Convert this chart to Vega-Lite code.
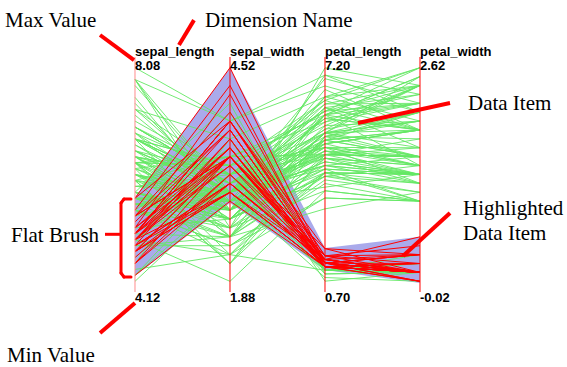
{
"$schema": "https://vega.github.io/schema/vega-lite/v6.json",
"width": 567, "height": 367, "padding": 0, "autosize": "none",
"background": "white",
"config": {"view": {"stroke": null}},
"datasets": {
"dims": [
{"key":"sepal_length","idx":0,"min":4.12,"max":8.08,"minText":"4.12","maxText":"8.08"},
{"key":"sepal_width","idx":1,"min":1.88,"max":4.52,"minText":"1.88","maxText":"4.52"},
{"key":"petal_length","idx":2,"min":0.7,"max":7.2,"minText":"0.70","maxText":"7.20"},
{"key":"petal_width","idx":3,"min":-0.02,"max":2.62,"minText":"-0.02","maxText":"2.62"}
],
"brush": [
{"key":"sepal_length","lo":4.39,"hi":5.72},
{"key":"sepal_width","lo":2.88,"hi":4.4},
{"key":"petal_length","lo":1.31,"hi":1.92},
{"key":"petal_width","lo":0.08,"hi":0.6}
],
"iris": [
{"id":1,"sepal_length":5.1,"sepal_width":3.5,"petal_length":1.4,"petal_width":0.2},
{"id":2,"sepal_length":4.9,"sepal_width":3.0,"petal_length":1.4,"petal_width":0.2},
{"id":3,"sepal_length":4.7,"sepal_width":3.2,"petal_length":1.3,"petal_width":0.2},
{"id":4,"sepal_length":4.6,"sepal_width":3.1,"petal_length":1.5,"petal_width":0.2},
{"id":5,"sepal_length":5.0,"sepal_width":3.6,"petal_length":1.4,"petal_width":0.2},
{"id":6,"sepal_length":5.4,"sepal_width":3.9,"petal_length":1.7,"petal_width":0.4},
{"id":7,"sepal_length":4.6,"sepal_width":3.4,"petal_length":1.4,"petal_width":0.3},
{"id":8,"sepal_length":5.0,"sepal_width":3.4,"petal_length":1.5,"petal_width":0.2},
{"id":9,"sepal_length":4.4,"sepal_width":2.9,"petal_length":1.4,"petal_width":0.2},
{"id":10,"sepal_length":4.9,"sepal_width":3.1,"petal_length":1.5,"petal_width":0.1},
{"id":11,"sepal_length":5.4,"sepal_width":3.7,"petal_length":1.5,"petal_width":0.2},
{"id":12,"sepal_length":4.8,"sepal_width":3.4,"petal_length":1.6,"petal_width":0.2},
{"id":13,"sepal_length":4.8,"sepal_width":3.0,"petal_length":1.4,"petal_width":0.1},
{"id":14,"sepal_length":4.3,"sepal_width":3.0,"petal_length":1.1,"petal_width":0.1},
{"id":15,"sepal_length":5.8,"sepal_width":4.0,"petal_length":1.2,"petal_width":0.2},
{"id":16,"sepal_length":5.7,"sepal_width":4.4,"petal_length":1.5,"petal_width":0.4},
{"id":17,"sepal_length":5.4,"sepal_width":3.9,"petal_length":1.3,"petal_width":0.4},
{"id":18,"sepal_length":5.1,"sepal_width":3.5,"petal_length":1.4,"petal_width":0.3},
{"id":19,"sepal_length":5.7,"sepal_width":3.8,"petal_length":1.7,"petal_width":0.3},
{"id":20,"sepal_length":5.1,"sepal_width":3.8,"petal_length":1.5,"petal_width":0.3},
{"id":21,"sepal_length":5.4,"sepal_width":3.4,"petal_length":1.7,"petal_width":0.2},
{"id":22,"sepal_length":5.1,"sepal_width":3.7,"petal_length":1.5,"petal_width":0.4},
{"id":23,"sepal_length":4.6,"sepal_width":3.6,"petal_length":1.0,"petal_width":0.2},
{"id":24,"sepal_length":5.1,"sepal_width":3.3,"petal_length":1.7,"petal_width":0.5},
{"id":25,"sepal_length":4.8,"sepal_width":3.4,"petal_length":1.9,"petal_width":0.2},
{"id":26,"sepal_length":5.0,"sepal_width":3.0,"petal_length":1.6,"petal_width":0.2},
{"id":27,"sepal_length":5.0,"sepal_width":3.4,"petal_length":1.6,"petal_width":0.4},
{"id":28,"sepal_length":5.2,"sepal_width":3.5,"petal_length":1.5,"petal_width":0.2},
{"id":29,"sepal_length":5.2,"sepal_width":3.4,"petal_length":1.4,"petal_width":0.2},
{"id":30,"sepal_length":4.7,"sepal_width":3.2,"petal_length":1.6,"petal_width":0.2},
{"id":31,"sepal_length":4.8,"sepal_width":3.1,"petal_length":1.6,"petal_width":0.2},
{"id":32,"sepal_length":5.4,"sepal_width":3.4,"petal_length":1.5,"petal_width":0.4},
{"id":33,"sepal_length":5.2,"sepal_width":4.1,"petal_length":1.5,"petal_width":0.1},
{"id":34,"sepal_length":5.5,"sepal_width":4.2,"petal_length":1.4,"petal_width":0.2},
{"id":35,"sepal_length":4.9,"sepal_width":3.1,"petal_length":1.5,"petal_width":0.2},
{"id":36,"sepal_length":5.0,"sepal_width":3.2,"petal_length":1.2,"petal_width":0.2},
{"id":37,"sepal_length":5.5,"sepal_width":3.5,"petal_length":1.3,"petal_width":0.2},
{"id":38,"sepal_length":4.9,"sepal_width":3.6,"petal_length":1.4,"petal_width":0.1},
{"id":39,"sepal_length":4.4,"sepal_width":3.0,"petal_length":1.3,"petal_width":0.2},
{"id":40,"sepal_length":5.1,"sepal_width":3.4,"petal_length":1.5,"petal_width":0.2},
{"id":41,"sepal_length":5.0,"sepal_width":3.5,"petal_length":1.3,"petal_width":0.3},
{"id":42,"sepal_length":4.5,"sepal_width":2.3,"petal_length":1.3,"petal_width":0.3},
{"id":43,"sepal_length":4.4,"sepal_width":3.2,"petal_length":1.3,"petal_width":0.2},
{"id":44,"sepal_length":5.0,"sepal_width":3.5,"petal_length":1.6,"petal_width":0.6},
{"id":45,"sepal_length":5.1,"sepal_width":3.8,"petal_length":1.9,"petal_width":0.4},
{"id":46,"sepal_length":4.8,"sepal_width":3.0,"petal_length":1.4,"petal_width":0.3},
{"id":47,"sepal_length":5.1,"sepal_width":3.8,"petal_length":1.6,"petal_width":0.2},
{"id":48,"sepal_length":4.6,"sepal_width":3.2,"petal_length":1.4,"petal_width":0.2},
{"id":49,"sepal_length":5.3,"sepal_width":3.7,"petal_length":1.5,"petal_width":0.2},
{"id":50,"sepal_length":5.0,"sepal_width":3.3,"petal_length":1.4,"petal_width":0.2},
{"id":51,"sepal_length":7.0,"sepal_width":3.2,"petal_length":4.7,"petal_width":1.4},
{"id":52,"sepal_length":6.4,"sepal_width":3.2,"petal_length":4.5,"petal_width":1.5},
{"id":53,"sepal_length":6.9,"sepal_width":3.1,"petal_length":4.9,"petal_width":1.5},
{"id":54,"sepal_length":5.5,"sepal_width":2.3,"petal_length":4.0,"petal_width":1.3},
{"id":55,"sepal_length":6.5,"sepal_width":2.8,"petal_length":4.6,"petal_width":1.5},
{"id":56,"sepal_length":5.7,"sepal_width":2.8,"petal_length":4.5,"petal_width":1.3},
{"id":57,"sepal_length":6.3,"sepal_width":3.3,"petal_length":4.7,"petal_width":1.6},
{"id":58,"sepal_length":4.9,"sepal_width":2.4,"petal_length":3.3,"petal_width":1.0},
{"id":59,"sepal_length":6.6,"sepal_width":2.9,"petal_length":4.6,"petal_width":1.3},
{"id":60,"sepal_length":5.2,"sepal_width":2.7,"petal_length":3.9,"petal_width":1.4},
{"id":61,"sepal_length":5.0,"sepal_width":2.0,"petal_length":3.5,"petal_width":1.0},
{"id":62,"sepal_length":5.9,"sepal_width":3.0,"petal_length":4.2,"petal_width":1.5},
{"id":63,"sepal_length":6.0,"sepal_width":2.2,"petal_length":4.0,"petal_width":1.0},
{"id":64,"sepal_length":6.1,"sepal_width":2.9,"petal_length":4.7,"petal_width":1.4},
{"id":65,"sepal_length":5.6,"sepal_width":2.9,"petal_length":3.6,"petal_width":1.3},
{"id":66,"sepal_length":6.7,"sepal_width":3.1,"petal_length":4.4,"petal_width":1.4},
{"id":67,"sepal_length":5.6,"sepal_width":3.0,"petal_length":4.5,"petal_width":1.5},
{"id":68,"sepal_length":5.8,"sepal_width":2.7,"petal_length":4.1,"petal_width":1.0},
{"id":69,"sepal_length":6.2,"sepal_width":2.2,"petal_length":4.5,"petal_width":1.5},
{"id":70,"sepal_length":5.6,"sepal_width":2.5,"petal_length":3.9,"petal_width":1.1},
{"id":71,"sepal_length":5.9,"sepal_width":3.2,"petal_length":4.8,"petal_width":1.8},
{"id":72,"sepal_length":6.1,"sepal_width":2.8,"petal_length":4.0,"petal_width":1.3},
{"id":73,"sepal_length":6.3,"sepal_width":2.5,"petal_length":4.9,"petal_width":1.5},
{"id":74,"sepal_length":6.1,"sepal_width":2.8,"petal_length":4.7,"petal_width":1.2},
{"id":75,"sepal_length":6.4,"sepal_width":2.9,"petal_length":4.3,"petal_width":1.3},
{"id":76,"sepal_length":6.6,"sepal_width":3.0,"petal_length":4.4,"petal_width":1.4},
{"id":77,"sepal_length":6.8,"sepal_width":2.8,"petal_length":4.8,"petal_width":1.4},
{"id":78,"sepal_length":6.7,"sepal_width":3.0,"petal_length":5.0,"petal_width":1.7},
{"id":79,"sepal_length":6.0,"sepal_width":2.9,"petal_length":4.5,"petal_width":1.5},
{"id":80,"sepal_length":5.7,"sepal_width":2.6,"petal_length":3.5,"petal_width":1.0},
{"id":81,"sepal_length":5.5,"sepal_width":2.4,"petal_length":3.8,"petal_width":1.1},
{"id":82,"sepal_length":5.5,"sepal_width":2.4,"petal_length":3.7,"petal_width":1.0},
{"id":83,"sepal_length":5.8,"sepal_width":2.7,"petal_length":3.9,"petal_width":1.2},
{"id":84,"sepal_length":6.0,"sepal_width":2.7,"petal_length":5.1,"petal_width":1.6},
{"id":85,"sepal_length":5.4,"sepal_width":3.0,"petal_length":4.5,"petal_width":1.5},
{"id":86,"sepal_length":6.0,"sepal_width":3.4,"petal_length":4.5,"petal_width":1.6},
{"id":87,"sepal_length":6.7,"sepal_width":3.1,"petal_length":4.7,"petal_width":1.5},
{"id":88,"sepal_length":6.3,"sepal_width":2.3,"petal_length":4.4,"petal_width":1.3},
{"id":89,"sepal_length":5.6,"sepal_width":3.0,"petal_length":4.1,"petal_width":1.3},
{"id":90,"sepal_length":5.5,"sepal_width":2.5,"petal_length":4.0,"petal_width":1.3},
{"id":91,"sepal_length":5.5,"sepal_width":2.6,"petal_length":4.4,"petal_width":1.2},
{"id":92,"sepal_length":6.1,"sepal_width":3.0,"petal_length":4.6,"petal_width":1.4},
{"id":93,"sepal_length":5.8,"sepal_width":2.6,"petal_length":4.0,"petal_width":1.2},
{"id":94,"sepal_length":5.0,"sepal_width":2.3,"petal_length":3.3,"petal_width":1.0},
{"id":95,"sepal_length":5.6,"sepal_width":2.7,"petal_length":4.2,"petal_width":1.3},
{"id":96,"sepal_length":5.7,"sepal_width":3.0,"petal_length":4.2,"petal_width":1.2},
{"id":97,"sepal_length":5.7,"sepal_width":2.9,"petal_length":4.2,"petal_width":1.3},
{"id":98,"sepal_length":6.2,"sepal_width":2.9,"petal_length":4.3,"petal_width":1.3},
{"id":99,"sepal_length":5.1,"sepal_width":2.5,"petal_length":3.0,"petal_width":1.1},
{"id":100,"sepal_length":5.7,"sepal_width":2.8,"petal_length":4.1,"petal_width":1.3},
{"id":101,"sepal_length":6.3,"sepal_width":3.3,"petal_length":6.0,"petal_width":2.5},
{"id":102,"sepal_length":5.8,"sepal_width":2.7,"petal_length":5.1,"petal_width":1.9},
{"id":103,"sepal_length":7.1,"sepal_width":3.0,"petal_length":5.9,"petal_width":2.1},
{"id":104,"sepal_length":6.3,"sepal_width":2.9,"petal_length":5.6,"petal_width":1.8},
{"id":105,"sepal_length":6.5,"sepal_width":3.0,"petal_length":5.8,"petal_width":2.2},
{"id":106,"sepal_length":7.6,"sepal_width":3.0,"petal_length":6.6,"petal_width":2.1},
{"id":107,"sepal_length":4.9,"sepal_width":2.5,"petal_length":4.5,"petal_width":1.7},
{"id":108,"sepal_length":7.3,"sepal_width":2.9,"petal_length":6.3,"petal_width":1.8},
{"id":109,"sepal_length":6.7,"sepal_width":2.5,"petal_length":5.8,"petal_width":1.8},
{"id":110,"sepal_length":7.2,"sepal_width":3.6,"petal_length":6.1,"petal_width":2.5},
{"id":111,"sepal_length":6.5,"sepal_width":3.2,"petal_length":5.1,"petal_width":2.0},
{"id":112,"sepal_length":6.4,"sepal_width":2.7,"petal_length":5.3,"petal_width":1.9},
{"id":113,"sepal_length":6.8,"sepal_width":3.0,"petal_length":5.5,"petal_width":2.1},
{"id":114,"sepal_length":5.7,"sepal_width":2.5,"petal_length":5.0,"petal_width":2.0},
{"id":115,"sepal_length":5.8,"sepal_width":2.8,"petal_length":5.1,"petal_width":2.4},
{"id":116,"sepal_length":6.4,"sepal_width":3.2,"petal_length":5.3,"petal_width":2.3},
{"id":117,"sepal_length":6.5,"sepal_width":3.0,"petal_length":5.5,"petal_width":1.8},
{"id":118,"sepal_length":7.7,"sepal_width":3.8,"petal_length":6.7,"petal_width":2.2},
{"id":119,"sepal_length":7.7,"sepal_width":2.6,"petal_length":6.9,"petal_width":2.3},
{"id":120,"sepal_length":6.0,"sepal_width":2.2,"petal_length":5.0,"petal_width":1.5},
{"id":121,"sepal_length":6.9,"sepal_width":3.2,"petal_length":5.7,"petal_width":2.3},
{"id":122,"sepal_length":5.6,"sepal_width":2.8,"petal_length":4.9,"petal_width":2.0},
{"id":123,"sepal_length":7.7,"sepal_width":2.8,"petal_length":6.7,"petal_width":2.0},
{"id":124,"sepal_length":6.3,"sepal_width":2.7,"petal_length":4.9,"petal_width":1.8},
{"id":125,"sepal_length":6.7,"sepal_width":3.3,"petal_length":5.7,"petal_width":2.1},
{"id":126,"sepal_length":7.2,"sepal_width":3.2,"petal_length":6.0,"petal_width":1.8},
{"id":127,"sepal_length":6.2,"sepal_width":2.8,"petal_length":4.8,"petal_width":1.8},
{"id":128,"sepal_length":6.1,"sepal_width":3.0,"petal_length":4.9,"petal_width":1.8},
{"id":129,"sepal_length":6.4,"sepal_width":2.8,"petal_length":5.6,"petal_width":2.1},
{"id":130,"sepal_length":7.2,"sepal_width":3.0,"petal_length":5.8,"petal_width":1.6},
{"id":131,"sepal_length":7.4,"sepal_width":2.8,"petal_length":6.1,"petal_width":1.9},
{"id":132,"sepal_length":7.9,"sepal_width":3.8,"petal_length":6.4,"petal_width":2.0},
{"id":133,"sepal_length":6.4,"sepal_width":2.8,"petal_length":5.6,"petal_width":2.2},
{"id":134,"sepal_length":6.3,"sepal_width":2.8,"petal_length":5.1,"petal_width":1.5},
{"id":135,"sepal_length":6.1,"sepal_width":2.6,"petal_length":5.6,"petal_width":1.4},
{"id":136,"sepal_length":7.7,"sepal_width":3.0,"petal_length":6.1,"petal_width":2.3},
{"id":137,"sepal_length":6.3,"sepal_width":3.4,"petal_length":5.6,"petal_width":2.4},
{"id":138,"sepal_length":6.4,"sepal_width":3.1,"petal_length":5.5,"petal_width":1.8},
{"id":139,"sepal_length":6.0,"sepal_width":3.0,"petal_length":4.8,"petal_width":1.8},
{"id":140,"sepal_length":6.9,"sepal_width":3.1,"petal_length":5.4,"petal_width":2.1},
{"id":141,"sepal_length":6.7,"sepal_width":3.1,"petal_length":5.6,"petal_width":2.4},
{"id":142,"sepal_length":6.9,"sepal_width":3.1,"petal_length":5.1,"petal_width":2.3},
{"id":143,"sepal_length":5.8,"sepal_width":2.7,"petal_length":5.1,"petal_width":1.9},
{"id":144,"sepal_length":6.8,"sepal_width":3.2,"petal_length":5.9,"petal_width":2.3},
{"id":145,"sepal_length":6.7,"sepal_width":3.3,"petal_length":5.7,"petal_width":2.5},
{"id":146,"sepal_length":6.7,"sepal_width":3.0,"petal_length":5.2,"petal_width":2.3},
{"id":147,"sepal_length":6.3,"sepal_width":2.5,"petal_length":5.0,"petal_width":1.9},
{"id":148,"sepal_length":6.5,"sepal_width":3.0,"petal_length":5.2,"petal_width":2.0},
{"id":149,"sepal_length":6.2,"sepal_width":3.4,"petal_length":5.4,"petal_width":2.3},
{"id":150,"sepal_length":5.9,"sepal_width":3.0,"petal_length":5.1,"petal_width":1.8}
]
},
"layer": [
{
"data": {"name": "brush"},
"transform": [
{"lookup": "key", "from": {"data": {"name": "dims"}, "key": "key", "fields": ["idx", "min", "max"]}},
{"calculate": "(datum.lo-datum.min)/(datum.max-datum.min)", "as": "ylo"},
{"calculate": "(datum.hi-datum.min)/(datum.max-datum.min)", "as": "yhi"}
],
"mark": {"type": "area", "color": "#aaaaeb", "opacity": 1},
"encoding": {
"x": {"field": "idx", "type": "quantitative", "axis": null, "scale": {"domain": [-1.42105, 4.54737], "nice": false, "zero": false}},
"y": {"field": "yhi", "type": "quantitative", "axis": null, "scale": {"domain": [-0.31915, 1.24255], "nice": false, "zero": false}},
"y2": {"field": "ylo"}
}
},
{
"data": {"name": "iris"},
"transform": [
{"filter": "!(datum.sepal_length>=4.39 && datum.sepal_length<=5.72 && datum.sepal_width>=2.88 && datum.petal_length>=1.31 && datum.petal_length<=1.92 && datum.petal_width<=0.6)"},
{"fold": ["sepal_length", "sepal_width", "petal_length", "petal_width"], "as": ["key", "value"]},
{"lookup": "key", "from": {"data": {"name": "dims"}, "key": "key", "fields": ["idx", "min", "max"]}},
{"calculate": "(datum.value-datum.min)/(datum.max-datum.min)", "as": "norm"}
],
"mark": {"type": "line", "color": "#64e864", "strokeWidth": 1, "opacity": 0.9},
"encoding": {
"x": {"field": "idx", "type": "quantitative", "axis": null, "scale": {"domain": [-1.42105, 4.54737], "nice": false, "zero": false}},
"y": {"field": "norm", "type": "quantitative", "axis": null, "scale": {"domain": [-0.31915, 1.24255], "nice": false, "zero": false}},
"detail": {"field": "id", "type": "nominal"},
"order": {"field": "idx", "type": "quantitative"}
}
},
{
"data": {"name": "iris"},
"transform": [
{"filter": "datum.sepal_length>=4.39 && datum.sepal_length<=5.72 && datum.sepal_width>=2.88 && datum.petal_length>=1.31 && datum.petal_length<=1.92 && datum.petal_width<=0.6"},
{"fold": ["sepal_length", "sepal_width", "petal_length", "petal_width"], "as": ["key", "value"]},
{"lookup": "key", "from": {"data": {"name": "dims"}, "key": "key", "fields": ["idx", "min", "max"]}},
{"calculate": "(datum.value-datum.min)/(datum.max-datum.min)", "as": "norm"}
],
"mark": {"type": "line", "color": "#ff0000", "strokeWidth": 1},
"encoding": {
"x": {"field": "idx", "type": "quantitative", "axis": null, "scale": {"domain": [-1.42105, 4.54737], "nice": false, "zero": false}},
"y": {"field": "norm", "type": "quantitative", "axis": null, "scale": {"domain": [-0.31915, 1.24255], "nice": false, "zero": false}},
"detail": {"field": "id", "type": "nominal"},
"order": {"field": "idx", "type": "quantitative"}
}
},
{
"data": {"name": "dims"},
"mark": {"type": "rule", "strokeWidth": 1},
"encoding": {
"x": {"field": "idx", "type": "quantitative", "axis": null, "scale": {"domain": [-1.42105, 4.54737], "nice": false, "zero": false}},
"y": {"datum": 0, "type": "quantitative", "axis": null, "scale": {"domain": [-0.31915, 1.24255], "nice": false, "zero": false}},
"y2": {"datum": 1},
"color": {"condition": {"test": "datum.key === 'sepal_length'", "value": "#ff8c8c"}, "value": "#ff0000"}
}
},
{
"data": {"name": "dims"},
"mark": {"type": "text", "align": "left", "baseline": "alphabetic", "font": "Liberation Sans", "fontWeight": "bold", "fontSize": 13, "color": "#000000"},
"encoding": {
"x": {"field": "idx", "type": "quantitative", "axis": null, "scale": {"domain": [-1.42105, 4.54737], "nice": false, "zero": false}},
"y": {"datum": 1.0043, "type": "quantitative", "axis": null, "scale": {"domain": [-0.31915, 1.24255], "nice": false, "zero": false}},
"text": {"field": "key"}
}
},
{
"data": {"name": "dims"},
"mark": {"type": "text", "align": "left", "baseline": "alphabetic", "font": "Liberation Sans", "fontWeight": "bold", "fontSize": 13, "color": "#000000"},
"encoding": {
"x": {"field": "idx", "type": "quantitative", "axis": null, "scale": {"domain": [-1.42105, 4.54737], "nice": false, "zero": false}},
"y": {"datum": 0.9468, "type": "quantitative", "axis": null, "scale": {"domain": [-0.31915, 1.24255], "nice": false, "zero": false}},
"text": {"field": "maxText"}
}
},
{
"data": {"name": "dims"},
"mark": {"type": "text", "align": "left", "baseline": "alphabetic", "font": "Liberation Sans", "fontWeight": "bold", "fontSize": 13, "color": "#000000"},
"encoding": {
"x": {"field": "idx", "type": "quantitative", "axis": null, "scale": {"domain": [-1.42105, 4.54737], "nice": false, "zero": false}},
"y": {"datum": -0.0413, "type": "quantitative", "axis": null, "scale": {"domain": [-0.31915, 1.24255], "nice": false, "zero": false}},
"text": {"field": "minText"}
}
},
{"data": {"values": [{}]}, "mark": {"type": "text", "text": "Max Value", "align": "left", "baseline": "alphabetic", "font": "Liberation Serif", "fontSize": 21, "color": "#000000"},
 "encoding": {"x": {"datum": -1.368, "type": "quantitative", "axis": null, "scale": {"domain": [-1.42105, 4.54737], "nice": false, "zero": false}}, "y": {"datum": 1.1277, "type": "quantitative", "axis": null, "scale": {"domain": [-0.31915, 1.24255], "nice": false, "zero": false}}}},
{"data": {"values": [{}]}, "mark": {"type": "text", "text": "Dimension Name", "align": "left", "baseline": "alphabetic", "font": "Liberation Serif", "fontSize": 21, "color": "#000000"},
 "encoding": {"x": {"datum": 0.737, "type": "quantitative", "axis": null, "scale": {"domain": [-1.42105, 4.54737], "nice": false, "zero": false}}, "y": {"datum": 1.1277, "type": "quantitative", "axis": null, "scale": {"domain": [-0.31915, 1.24255], "nice": false, "zero": false}}}},
{"data": {"values": [{}]}, "mark": {"type": "text", "text": "Data Item", "align": "left", "baseline": "alphabetic", "font": "Liberation Serif", "fontSize": 21, "color": "#000000"},
 "encoding": {"x": {"datum": 3.505, "type": "quantitative", "axis": null, "scale": {"domain": [-1.42105, 4.54737], "nice": false, "zero": false}}, "y": {"datum": 0.7745, "type": "quantitative", "axis": null, "scale": {"domain": [-0.31915, 1.24255], "nice": false, "zero": false}}}},
{"data": {"values": [{}]}, "mark": {"type": "text", "text": "Flat Brush", "align": "left", "baseline": "alphabetic", "font": "Liberation Serif", "fontSize": 21, "color": "#000000"},
 "encoding": {"x": {"datum": -1.305, "type": "quantitative", "axis": null, "scale": {"domain": [-1.42105, 4.54737], "nice": false, "zero": false}}, "y": {"datum": 0.2128, "type": "quantitative", "axis": null, "scale": {"domain": [-0.31915, 1.24255], "nice": false, "zero": false}}}},
{"data": {"values": [{}]}, "mark": {"type": "text", "text": "Highlighted", "align": "left", "baseline": "alphabetic", "font": "Liberation Serif", "fontSize": 21, "color": "#000000"},
 "encoding": {"x": {"datum": 3.453, "type": "quantitative", "axis": null, "scale": {"domain": [-1.42105, 4.54737], "nice": false, "zero": false}}, "y": {"datum": 0.3277, "type": "quantitative", "axis": null, "scale": {"domain": [-0.31915, 1.24255], "nice": false, "zero": false}}}},
{"data": {"values": [{}]}, "mark": {"type": "text", "text": "Data Item", "align": "left", "baseline": "alphabetic", "font": "Liberation Serif", "fontSize": 21, "color": "#000000"},
 "encoding": {"x": {"datum": 3.453, "type": "quantitative", "axis": null, "scale": {"domain": [-1.42105, 4.54737], "nice": false, "zero": false}}, "y": {"datum": 0.2213, "type": "quantitative", "axis": null, "scale": {"domain": [-0.31915, 1.24255], "nice": false, "zero": false}}}},
{"data": {"values": [{}]}, "mark": {"type": "text", "text": "Min Value", "align": "left", "baseline": "alphabetic", "font": "Liberation Serif", "fontSize": 21, "color": "#000000"},
 "encoding": {"x": {"datum": -1.347, "type": "quantitative", "axis": null, "scale": {"domain": [-1.42105, 4.54737], "nice": false, "zero": false}}, "y": {"datum": -0.2979, "type": "quantitative", "axis": null, "scale": {"domain": [-0.31915, 1.24255], "nice": false, "zero": false}}}},
{"data": {"values": [{}]}, "mark": {"type": "rule", "color": "#ff0000", "strokeWidth": 4},
 "encoding": {"x": {"datum": -0.368, "type": "quantitative", "axis": null, "scale": {"domain": [-1.42105, 4.54737], "nice": false, "zero": false}}, "y": {"datum": 1.0936, "type": "quantitative", "axis": null, "scale": {"domain": [-0.31915, 1.24255], "nice": false, "zero": false}}, "x2": {"datum": -0.0105}, "y2": {"datum": 0.987}}},
{"data": {"values": [{}]}, "mark": {"type": "rule", "color": "#ff0000", "strokeWidth": 4},
 "encoding": {"x": {"datum": 0.621, "type": "quantitative", "axis": null, "scale": {"domain": [-1.42105, 4.54737], "nice": false, "zero": false}}, "y": {"datum": 1.157, "type": "quantitative", "axis": null, "scale": {"domain": [-0.31915, 1.24255], "nice": false, "zero": false}}, "x2": {"datum": 0.463}, "y2": {"datum": 1.051}}},
{"data": {"values": [{}]}, "mark": {"type": "rule", "color": "#ff0000", "strokeWidth": 4},
 "encoding": {"x": {"datum": 2.347, "type": "quantitative", "axis": null, "scale": {"domain": [-1.42105, 4.54737], "nice": false, "zero": false}}, "y": {"datum": 0.719, "type": "quantitative", "axis": null, "scale": {"domain": [-0.31915, 1.24255], "nice": false, "zero": false}}, "x2": {"datum": 3.316}, "y2": {"datum": 0.804}}},
{"data": {"values": [{}]}, "mark": {"type": "rule", "color": "#ff0000", "strokeWidth": 4},
 "encoding": {"x": {"datum": 3.316, "type": "quantitative", "axis": null, "scale": {"domain": [-1.42105, 4.54737], "nice": false, "zero": false}}, "y": {"datum": 0.336, "type": "quantitative", "axis": null, "scale": {"domain": [-0.31915, 1.24255], "nice": false, "zero": false}}, "x2": {"datum": 2.821}, "y2": {"datum": 0.153}}},
{"data": {"values": [{}]}, "mark": {"type": "rule", "color": "#ff0000", "strokeWidth": 4},
 "encoding": {"x": {"datum": -0.368, "type": "quantitative", "axis": null, "scale": {"domain": [-1.42105, 4.54737], "nice": false, "zero": false}}, "y": {"datum": -0.1745, "type": "quantitative", "axis": null, "scale": {"domain": [-0.31915, 1.24255], "nice": false, "zero": false}}, "x2": {"datum": 0.0}, "y2": {"datum": -0.0468}}},
{"data": {"values": [{}]}, "mark": {"type": "rule", "color": "#ff0000", "strokeWidth": 3},
 "encoding": {"x": {"datum": -0.3158, "type": "quantitative", "axis": null, "scale": {"domain": [-1.42105, 4.54737], "nice": false, "zero": false}}, "y": {"datum": 0.2455, "type": "quantitative", "axis": null, "scale": {"domain": [-0.31915, 1.24255], "nice": false, "zero": false}}, "x2": {"datum": -0.1474}, "y2": {"datum": 0.2455}}},
{"data": {"values": [{}]}, "mark": {"type": "rule", "color": "#ff0000", "strokeWidth": 3, "strokeCap": "round"},
 "encoding": {"x": {"datum": -0.1474, "type": "quantitative", "axis": null, "scale": {"domain": [-1.42105, 4.54737], "nice": false, "zero": false}}, "y": {"datum": 0.3787, "type": "quantitative", "axis": null, "scale": {"domain": [-0.31915, 1.24255], "nice": false, "zero": false}}, "x2": {"datum": -0.1474}, "y2": {"datum": 0.0809}}},
{"data": {"values": [{}]}, "mark": {"type": "rule", "color": "#ff0000", "strokeWidth": 3, "strokeCap": "round"},
 "encoding": {"x": {"datum": -0.1474, "type": "quantitative", "axis": null, "scale": {"domain": [-1.42105, 4.54737], "nice": false, "zero": false}}, "y": {"datum": 0.3787, "type": "quantitative", "axis": null, "scale": {"domain": [-0.31915, 1.24255], "nice": false, "zero": false}}, "x2": {"datum": -0.1158}, "y2": {"datum": 0.3957}}},
{"data": {"values": [{}]}, "mark": {"type": "rule", "color": "#ff0000", "strokeWidth": 3, "strokeCap": "round"},
 "encoding": {"x": {"datum": -0.1158, "type": "quantitative", "axis": null, "scale": {"domain": [-1.42105, 4.54737], "nice": false, "zero": false}}, "y": {"datum": 0.3957, "type": "quantitative", "axis": null, "scale": {"domain": [-0.31915, 1.24255], "nice": false, "zero": false}}, "x2": {"datum": -0.0421}, "y2": {"datum": 0.3957}}},
{"data": {"values": [{}]}, "mark": {"type": "rule", "color": "#ff0000", "strokeWidth": 3, "strokeCap": "round"},
 "encoding": {"x": {"datum": -0.1474, "type": "quantitative", "axis": null, "scale": {"domain": [-1.42105, 4.54737], "nice": false, "zero": false}}, "y": {"datum": 0.0809, "type": "quantitative", "axis": null, "scale": {"domain": [-0.31915, 1.24255], "nice": false, "zero": false}}, "x2": {"datum": -0.1158}, "y2": {"datum": 0.0638}}},
{"data": {"values": [{}]}, "mark": {"type": "rule", "color": "#ff0000", "strokeWidth": 3, "strokeCap": "round"},
 "encoding": {"x": {"datum": -0.1158, "type": "quantitative", "axis": null, "scale": {"domain": [-1.42105, 4.54737], "nice": false, "zero": false}}, "y": {"datum": 0.0638, "type": "quantitative", "axis": null, "scale": {"domain": [-0.31915, 1.24255], "nice": false, "zero": false}}, "x2": {"datum": -0.0421}, "y2": {"datum": 0.0638}}}
]
}
